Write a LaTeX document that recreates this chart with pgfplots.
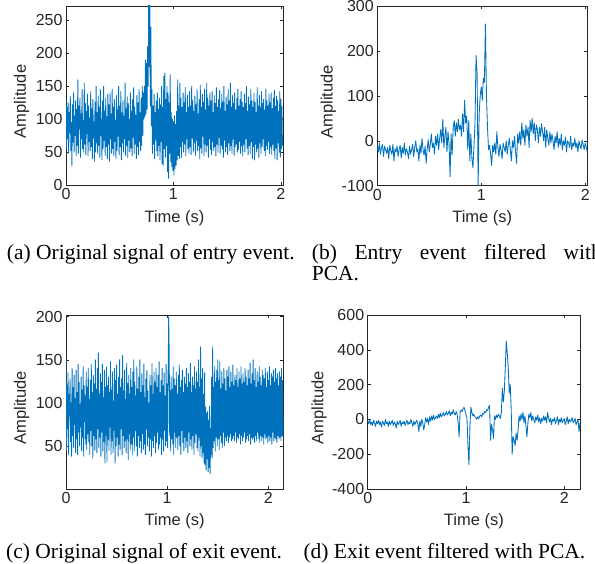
\documentclass[border=0pt]{standalone}
\usepackage{fontspec}
\setmainfont{Liberation Serif}
\newfontfamily\axfont{Liberation Sans}
\usepackage{pgfplots}
\pgfplotsset{compat=1.18}
\definecolor{mblue}{HTML}{0072BD}
\definecolor{axgray}{HTML}{262626}
\pgfplotsset{
  sigline/.style={color=mblue, no marks, line width=0.85pt, line join=round},
  sig/.style={
    scale only axis, anchor=south west,
    axis line style={axgray, line width=0.6pt},
    every tick/.style={axgray, line width=0.5pt},
    tick align=inside, major tick length=3pt,
    ticklabel style={font=\axfont\fontsize{16}{18}\selectfont, text=axgray},
    label style={font=\axfont\fontsize{16.5}{18}\selectfont, text=axgray},
    xlabel={Time (s)}, ylabel={Amplitude},
    xtick={0,1,2}, xticklabels={0,1,2},
  }
}
\begin{document}
\begin{tikzpicture}
\useasboundingbox (0pt,0pt) rectangle (595pt,564pt);
% (a)
\begin{axis}[sig, at={(66pt,379pt)}, width=217pt, height=179pt,
  xmin=0, xmax=2.02, ymin=0, ymax=272,
  ytick={0,50,100,150,200,250}, yticklabels={0,50,100,150,200,250},
  xlabel style={at={(axis description cs:0.5,-0.186)}, anchor=center},
  ylabel style={at={(axis description cs:-0.204,0.467)}, anchor=center}]
\addplot[sigline] table[row sep=\\, x expr=\coordindex*0.005, y index=0] {y\\
130\\ 55\\ 118\\ 70\\ 125\\ 48\\ 110\\ 80\\ 135\\ 52\\
95\\ 30\\ 122\\ 65\\ 140\\ 50\\ 105\\ 75\\ 128\\ 45\\
115\\ 60\\ 160\\ 48\\ 120\\ 85\\ 132\\ 42\\ 108\\ 70\\
145\\ 55\\ 98\\ 50\\ 155\\ 62\\ 124\\ 46\\ 112\\ 78\\
138\\ 44\\ 120\\ 66\\ 102\\ 52\\ 142\\ 58\\ 116\\ 40\\
130\\ 72\\ 96\\ 36\\ 126\\ 50\\ 150\\ 64\\ 110\\ 48\\
135\\ 60\\ 118\\ 42\\ 145\\ 75\\ 100\\ 38\\ 128\\ 55\\
150\\ 68\\ 112\\ 45\\ 132\\ 58\\ 104\\ 40\\ 138\\ 62\\
122\\ 36\\ 140\\ 70\\ 108\\ 48\\ 146\\ 55\\ 118\\ 44\\
130\\ 66\\ 98\\ 40\\ 136\\ 52\\ 114\\ 74\\ 150\\ 46\\
120\\ 58\\ 142\\ 38\\ 110\\ 64\\ 128\\ 50\\ 104\\ 70\\
155\\ 45\\ 116\\ 60\\ 134\\ 42\\ 124\\ 68\\ 100\\ 50\\
140\\ 56\\ 112\\ 44\\ 130\\ 72\\ 148\\ 48\\ 118\\ 62\\
106\\ 40\\ 136\\ 58\\ 125\\ 46\\ 145\\ 66\\ 110\\ 52\\
132\\ 60\\ 150\\ 75\\
140\\ 100\\ 150\\ 104\\ 190\\ 108\\ 185\\ 115\\ 210\\ 150\\ 290\\ 180\\
285\\ 120\\ 240\\ 90\\
145\\ 48\\ 120\\ 62\\ 138\\ 40\\ 110\\ 70\\ 128\\ 52\\
140\\ 44\\ 115\\ 60\\ 132\\ 38\\ 122\\ 66\\ 150\\ 32\\
118\\ 30\\ 165\\ 55\\ 170\\ 42\\ 130\\ 60\\ 150\\ 20\\
140\\ 10\\ 125\\ 48\\ 168\\ 35\\ 110\\ 28\\ 100\\ 22\\
96\\ 15\\ 105\\ 25\\ 92\\ 30\\ 112\\ 38\\ 160\\ 45\\
120\\ 40\\ 155\\ 58\\ 132\\ 42\\ 118\\ 66\\ 140\\ 50\\
125\\ 62\\ 148\\ 44\\ 110\\ 70\\ 136\\ 55\\ 118\\ 48\\
142\\ 58\\ 120\\ 46\\ 150\\ 72\\ 128\\ 50\\ 112\\ 64\\
135\\ 45\\ 122\\ 68\\ 145\\ 52\\ 108\\ 60\\ 130\\ 40\\
152\\ 56\\ 118\\ 48\\ 138\\ 74\\ 126\\ 44\\ 146\\ 62\\
114\\ 50\\ 155\\ 60\\ 132\\ 42\\ 120\\ 70\\ 140\\ 54\\
128\\ 46\\ 142\\ 66\\ 110\\ 52\\ 136\\ 58\\ 124\\ 44\\
148\\ 62\\ 118\\ 50\\ 130\\ 72\\ 144\\ 48\\ 116\\ 60\\
138\\ 55\\ 126\\ 42\\ 150\\ 68\\ 112\\ 50\\ 134\\ 58\\
122\\ 46\\ 145\\ 64\\ 128\\ 52\\ 155\\ 60\\ 118\\ 48\\
136\\ 70\\ 124\\ 45\\ 140\\ 58\\ 114\\ 62\\ 132\\ 50\\
146\\ 54\\ 120\\ 66\\ 130\\ 48\\ 142\\ 60\\ 126\\ 44\\
118\\ 62\\ 138\\ 50\\ 124\\ 70\\ 150\\ 56\\ 112\\ 46\\
134\\ 60\\ 122\\ 48\\ 145\\ 66\\ 128\\ 40\\ 118\\ 58\\
140\\ 38\\ 126\\ 62\\ 110\\ 50\\ 148\\ 56\\ 120\\ 42\\
136\\ 64\\ 118\\ 48\\ 142\\ 58\\ 124\\ 70\\ 130\\ 52\\
114\\ 44\\ 146\\ 60\\ 128\\ 54\\ 120\\ 66\\ 138\\ 48\\
125\\ 58\\ 140\\ 46\\ 116\\ 62\\ 132\\ 52\\ 144\\ 40\\
120\\ 56\\ 135\\ 38\\ 128\\ 64\\ 112\\ 50\\ 142\\ 42\\
130\\ 55\\ 120\\ 60\\
};
\end{axis}
% (b)
\begin{axis}[sig, at={(377.3pt,378.3pt)}, width=210pt, height=179.7pt,
  xmin=0, xmax=2.02, ymin=-100, ymax=300,
  ytick={-100,0,100,200,300}, yticklabels={-100,0,100,200,300},
  xlabel style={at={(axis description cs:0.5,-0.181)}, anchor=center},
  ylabel style={at={(axis description cs:-0.233,0.467)}, anchor=center}]
\addplot[sigline] table[row sep=\\, x expr=\coordindex*0.01, y index=0] {y\\
-10\\ -25\\ -5\\ -30\\ -15\\ -8\\ -35\\ -12\\ -20\\ -28\\
-15\\ -40\\ -10\\ -22\\ -30\\ -8\\ -45\\ -18\\ -25\\ -12\\
-35\\ -20\\ -10\\ -38\\ -15\\ -28\\ -5\\ -32\\ -18\\ -25\\
-40\\ -12\\ -30\\ -20\\ -8\\ -35\\ -15\\ 0\\ -25\\ -18\\
-45\\ -10\\ -28\\ 5\\ -20\\ -32\\ -12\\ -50\\ -18\\ 2\\
-25\\ -8\\ 15\\ -15\\ -5\\ -30\\ 10\\ -10\\ 15\\ -20\\
5\\ 25\\ -5\\ 48\\ -15\\ 10\\ 30\\ -25\\ 20\\ -5\\
-80\\ 15\\ -30\\ 30\\ 45\\ 10\\ 40\\ 20\\ 48\\ 25\\
35\\ 10\\ 60\\ 20\\ 90\\ 40\\ 55\\ -20\\ 45\\ -45\\
15\\ -40\\ -60\\ -10\\ 40\\ 190\\ 150\\ -100\\ 60\\ 100\\
120\\ 90\\ 140\\ 130\\ 260\\ 100\\ 30\\ -20\\ -10\\ -30\\
-55\\ -10\\ -25\\ -5\\ -30\\ 20\\ -15\\ -35\\ -8\\ -20\\
-40\\ -5\\ -15\\ -25\\ 0\\ -30\\ -10\\ 5\\ -20\\ -45\\
0\\ -15\\ 10\\ -25\\ -50\\ 15\\ -5\\ 20\\ -10\\ 40\\
5\\ 25\\ -10\\ 35\\ 10\\ 30\\ -15\\ 45\\ 20\\ 50\\
15\\ 40\\ 0\\ 35\\ 25\\ -5\\ 30\\ 10\\ 38\\ 20\\
0\\ 30\\ -15\\ 25\\ 5\\ -10\\ 20\\ -5\\ 15\\ 0\\
-20\\ 10\\ -5\\ 20\\ -15\\ 5\\ -10\\ 15\\ -20\\ 0\\
-10\\ 8\\ -25\\ 0\\ -5\\ -15\\ 10\\ -20\\ -5\\ -12\\
5\\ -15\\ -5\\ -25\\ 0\\ -10\\ -18\\ 2\\ -8\\ -20\\
-5\\ -15\\ -25\\
};
\end{axis}
% (c)
\begin{axis}[sig, at={(66pt,75pt)}, width=217.3pt, height=174pt,
  xmin=0, xmax=2.148, ymin=0, ymax=202,
  ytick={50,100,150,200}, yticklabels={50,100,150,200},
  xlabel style={at={(axis description cs:0.5,-0.184)}, anchor=center},
  ylabel style={at={(axis description cs:-0.204,0.467)}, anchor=center}]
\addplot[sigline] table[row sep=\\, x expr=\coordindex*0.005, y index=0] {y\\
152\\ 45\\ 120\\ 70\\ 135\\ 40\\ 110\\ 85\\ 128\\ 55\\
100\\ 38\\ 140\\ 62\\ 118\\ 48\\ 132\\ 75\\ 105\\ 42\\
138\\ 58\\ 112\\ 40\\ 145\\ 66\\ 124\\ 50\\ 98\\ 72\\
130\\ 44\\ 115\\ 60\\ 142\\ 38\\ 120\\ 78\\ 108\\ 52\\
136\\ 46\\ 118\\ 64\\ 140\\ 55\\ 104\\ 40\\ 126\\ 68\\
145\\ 50\\ 112\\ 36\\ 132\\ 62\\ 122\\ 45\\ 150\\ 58\\
116\\ 42\\ 140\\ 70\\ 158\\ 48\\ 110\\ 60\\ 134\\ 38\\
124\\ 66\\ 145\\ 44\\ 106\\ 55\\ 138\\ 30\\ 118\\ 62\\
142\\ 32\\ 120\\ 58\\ 130\\ 45\\ 112\\ 72\\ 148\\ 40\\
115\\ 56\\ 136\\ 42\\ 102\\ 68\\ 140\\ 30\\ 126\\ 50\\
144\\ 60\\ 110\\ 38\\ 130\\ 52\\ 150\\ 46\\ 118\\ 70\\
128\\ 40\\ 155\\ 62\\ 114\\ 48\\ 138\\ 56\\ 104\\ 42\\
146\\ 58\\ 122\\ 34\\ 132\\ 64\\ 110\\ 46\\ 140\\ 52\\
118\\ 40\\ 136\\ 60\\ 150\\ 44\\ 124\\ 68\\ 108\\ 50\\
142\\ 38\\ 116\\ 62\\ 130\\ 48\\ 150\\ 56\\ 112\\ 42\\
134\\ 64\\ 120\\ 46\\ 145\\ 52\\ 106\\ 40\\ 128\\ 70\\
138\\ 50\\ 114\\ 60\\ 100\\ 44\\ 132\\ 58\\ 120\\ 38\\
146\\ 56\\ 110\\ 48\\ 136\\ 62\\ 124\\ 42\\ 140\\ 54\\
118\\ 66\\ 132\\ 46\\ 148\\ 52\\ 112\\ 60\\ 126\\ 40\\
140\\ 58\\ 120\\ 44\\ 135\\ 68\\ 108\\ 50\\ 145\\ 56\\
122\\ 48\\ 138\\ 200\\ 160\\ 62\\ 114\\ 44\\ 130\\ 58\\
116\\ 52\\ 142\\ 40\\ 128\\ 66\\ 120\\ 48\\ 136\\ 60\\
110\\ 46\\ 132\\ 62\\ 144\\ 50\\ 118\\ 40\\ 126\\ 68\\
138\\ 54\\ 112\\ 44\\ 130\\ 60\\ 122\\ 48\\ 140\\ 56\\
118\\ 42\\ 134\\ 66\\ 124\\ 50\\ 146\\ 58\\ 112\\ 46\\
130\\ 62\\ 120\\ 40\\ 142\\ 54\\ 116\\ 64\\ 136\\ 48\\
124\\ 44\\ 150\\ 60\\ 118\\ 38\\ 165\\ 50\\ 128\\ 36\\
140\\ 42\\ 110\\ 30\\ 135\\ 28\\ 95\\ 22\\ 88\\ 35\\
90\\ 20\\ 80\\ 25\\ 96\\ 18\\ 70\\ 40\\ 130\\ 36\\
165\\ 48\\ 118\\ 56\\ 142\\ 44\\ 124\\ 60\\ 138\\ 50\\
150\\ 58\\ 126\\ 46\\ 148\\ 62\\ 116\\ 54\\ 136\\ 48\\
122\\ 66\\ 140\\ 50\\ 128\\ 60\\ 114\\ 56\\ 138\\ 62\\
130\\ 54\\ 142\\ 60\\ 118\\ 64\\ 136\\ 56\\ 124\\ 58\\
144\\ 62\\ 120\\ 56\\ 132\\ 66\\ 126\\ 54\\ 140\\ 60\\
118\\ 58\\ 136\\ 64\\ 128\\ 52\\ 142\\ 62\\ 122\\ 56\\
134\\ 60\\ 124\\ 66\\ 140\\ 54\\ 130\\ 58\\ 120\\ 62\\
138\\ 56\\ 128\\ 64\\ 146\\ 52\\ 122\\ 60\\ 134\\ 58\\
150\\ 60\\ 126\\ 54\\ 140\\ 62\\ 118\\ 56\\ 136\\ 66\\
124\\ 58\\ 142\\ 54\\ 130\\ 62\\ 120\\ 56\\ 138\\ 60\\
132\\ 52\\ 128\\ 64\\ 140\\ 58\\ 118\\ 60\\ 136\\ 54\\
126\\ 62\\ 142\\ 56\\ 120\\ 60\\ 134\\ 52\\ 130\\ 66\\
138\\ 56\\ 124\\ 60\\ 140\\ 58\\ 128\\ 54\\ 134\\ 62\\
120\\ 58\\ 136\\ 60\\ 130\\ 56\\ 140\\ 62\\ 126\\ 60\\
};
\end{axis}
% (d)
\begin{axis}[sig, at={(367.7pt,75pt)}, width=212.3pt, height=174pt,
  xmin=0, xmax=2.16, ymin=-400, ymax=600,
  ytick={-400,-200,0,200,400,600}, yticklabels={-400,-200,0,200,400,600},
  xlabel style={at={(axis description cs:0.5,-0.184)}, anchor=center},
  ylabel style={at={(axis description cs:-0.229,0.467)}, anchor=center}]
\addplot[sigline] table[row sep=\\, x expr=\coordindex*0.01, y index=0] {y\\
-10\\ -25\\ 0\\ -30\\ -15\\ -35\\ -5\\ -20\\ -40\\ -10\\
-25\\ -5\\ -30\\ -15\\ -45\\ -10\\ -20\\ -35\\ 0\\ -25\\
-15\\ -40\\ -10\\ -30\\ -20\\ -5\\ -35\\ -15\\ -25\\ -50\\
-10\\ -30\\ -20\\ -5\\ -40\\ -15\\ -25\\ -10\\ -35\\ -20\\
-5\\ -30\\ -15\\ -25\\ 0\\ -20\\ -40\\ -10\\ -30\\ -15\\
-5\\ -25\\ -70\\ -10\\ -40\\ 0\\ -20\\ -60\\ -30\\ 10\\
-15\\ 5\\ -30\\ 15\\ -10\\ 20\\ -5\\ 25\\ 0\\ 10\\
20\\ 5\\ 30\\ 10\\ 35\\ 15\\ 25\\ 40\\ 20\\ 30\\
45\\ 25\\ 35\\ 50\\ 20\\ 40\\ 30\\ 55\\ 35\\ 25\\
45\\ 30\\ -20\\ -100\\ 40\\ 55\\ 45\\ 60\\ 70\\ 50\\
30\\ 10\\ -150\\ -260\\ -40\\ 70\\ 40\\ 20\\ 30\\ 15\\
10\\ 0\\ 15\\ 5\\ 20\\ 25\\ 15\\ 35\\ 30\\ 45\\
40\\ 55\\ 50\\ 70\\ 80\\ -120\\ -30\\ -60\\ -110\\ 20\\
0\\ 25\\ 10\\ 30\\ 20\\ 5\\ 40\\ 180\\ 100\\ 160\\
300\\ 450\\ 380\\ 300\\ 150\\ 200\\ 60\\ -200\\ -100\\ -120\\
-150\\ -80\\ -120\\ -60\\ 20\\ -10\\ 30\\ 0\\ 40\\ -20\\
20\\ -40\\ -100\\ -20\\ 30\\ 10\\ 40\\ -10\\ 20\\ 0\\
-20\\ 15\\ -5\\ 25\\ -15\\ 10\\ -25\\ 5\\ -10\\ 20\\
-5\\ 15\\ -20\\ 40\\ 10\\ -15\\ 5\\ -30\\ 0\\ -10\\
10\\ -25\\ -5\\ 15\\ -30\\ 0\\ -15\\ 10\\ -20\\ -5\\
5\\ -30\\ -10\\ 15\\ -25\\ 0\\ -15\\ -5\\ 10\\ -20\\
-10\\ 5\\ -30\\ -15\\ 0\\ -70\\ -20\\
};
\end{axis}
% captions
\begin{scope}[every node/.style={anchor=base west, inner sep=0pt, font=\fontsize{21.5}{24}\selectfont}]
\node at (6.7pt,304.5pt) {(a) Original signal of entry event.};
\node at (311.7pt,304.5pt) {\makebox[290pt][s]{(b) Entry event filtered with}};
\node at (311.7pt,283pt) {PCA.};
\node at (6pt,5pt) {(c) Original signal of exit event.};
\node at (303.3pt,5pt) {(d) Exit event filtered with PCA.};
\end{scope}
\end{tikzpicture}
\end{document}
